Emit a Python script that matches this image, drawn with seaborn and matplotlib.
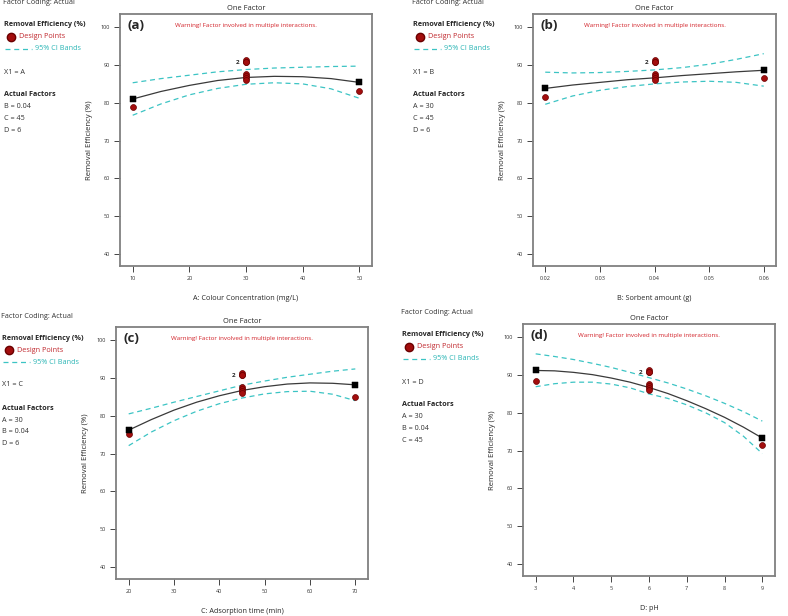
import numpy as np
import pandas as pd
import matplotlib
matplotlib.use("Agg")
import matplotlib.pyplot as plt
from matplotlib.lines import Line2D
import seaborn as sns

# ---- data ----
# (a) A: Colour Concentration
A_x = [10, 15, 20, 25, 30, 35, 40, 45, 50]
A_fit = [81.0, 83.0, 84.6, 85.9, 86.7, 87.0, 86.9, 86.4, 85.4]
A_hi = [85.3, 86.4, 87.3, 88.2, 88.8, 89.2, 89.4, 89.6, 89.7]
A_lo = [76.7, 79.7, 82.1, 83.8, 84.9, 85.3, 85.0, 83.7, 81.2]
A_ends = [10, 50]
A_pred = [81.0, 85.4]
A_obs = [78.9, 83.2]
A_ticks = [10, 20, 30, 40, 50]

# (b) B: Sorbent amount
B_x = [0.02, 0.025, 0.03, 0.035, 0.04, 0.045, 0.05, 0.055, 0.06]
B_fit = [83.8, 84.7, 85.4, 86.1, 86.6, 87.2, 87.7, 88.2, 88.6]
B_hi = [88.1, 87.9, 88.0, 88.3, 88.7, 89.3, 90.2, 91.5, 93.0]
B_lo = [79.6, 81.8, 83.3, 84.3, 85.0, 85.5, 85.7, 85.4, 84.4]
B_ends = [0.02, 0.06]
B_pred = [83.8, 88.6]
B_obs = [81.6, 86.5]
B_ticks = [0.02, 0.03, 0.04, 0.05, 0.06]

# (c) C: Adsorption time
C_x = [20, 25, 30, 35, 40, 45, 50, 55, 60, 65, 70]
C_fit = [76.2, 79.0, 81.5, 83.6, 85.3, 86.7, 87.7, 88.4, 88.7, 88.6, 88.2]
C_hi = [80.5, 82.0, 83.6, 85.1, 86.6, 88.1, 89.2, 90.2, 91.0, 91.8, 92.4]
C_lo = [72.1, 75.7, 78.7, 81.2, 83.2, 84.7, 85.8, 86.4, 86.5, 85.7, 84.0]
C_ends = [20, 70]
C_pred = [76.2, 88.2]
C_obs = [75.3, 85.0]
C_ticks = [20, 30, 40, 50, 60, 70]

# (d) D: pH
D_x = [3, 3.5, 4, 4.5, 5, 5.5, 6, 6.5, 7, 7.5, 8, 8.5, 9]
D_fit = [91.2, 91.1, 90.7, 90.1, 89.2, 88.1, 86.7, 85.1, 83.2, 81.1, 78.8, 76.2, 73.3]
D_hi = [95.6, 94.9, 94.1, 93.1, 92.0, 90.7, 89.3, 87.9, 86.3, 84.5, 82.5, 80.3, 77.8]
D_lo = [86.9, 87.7, 88.1, 88.1, 87.6, 86.6, 85.0, 83.8, 82.1, 80.0, 77.4, 73.8, 69.2]
D_ends = [3, 9]
D_pred = [91.2, 73.3]
D_obs = [88.5, 71.5]
D_ticks = [3, 4, 5, 6, 7, 8, 9]

# centre point replicates (same in every panel)
center_obs = [91.4, 90.7, 90.7, 87.7, 87.1, 86.5, 86.0]
y_ticks = [40, 50, 60, 70, 80, 90, 100]

panels = [
    dict(tag="(a)", x=A_x, fit=A_fit, hi=A_hi, lo=A_lo, ends=A_ends, pred=A_pred,
         obs=A_obs, ticks=A_ticks, center=30, xlabel="A: Colour Concentration (mg/L)",
         x1="X1 = A", fixed=["B = 0.04", "C = 45", "D = 6"],
         box=(120, 14, 372, 266), txt=(3, 1)),
    dict(tag="(b)", x=B_x, fit=B_fit, hi=B_hi, lo=B_lo, ends=B_ends, pred=B_pred,
         obs=B_obs, ticks=B_ticks, center=0.04, xlabel="B: Sorbent amount (g)",
         x1="X1 = B", fixed=["A = 30", "C = 45", "D = 6"],
         box=(533, 14, 776, 266), txt=(412, 1)),
    dict(tag="(c)", x=C_x, fit=C_fit, hi=C_hi, lo=C_lo, ends=C_ends, pred=C_pred,
         obs=C_obs, ticks=C_ticks, center=45, xlabel="C: Adsorption time (min)",
         x1="X1 = C", fixed=["A = 30", "B = 0.04", "D = 6"],
         box=(116, 327, 368, 579), txt=(1, 314)),
    dict(tag="(d)", x=D_x, fit=D_fit, hi=D_hi, lo=D_lo, ends=D_ends, pred=D_pred,
         obs=D_obs, ticks=D_ticks, center=6, xlabel="D: pH",
         x1="X1 = D", fixed=["A = 30", "B = 0.04", "C = 45"],
         box=(523, 324, 775, 576), txt=(401, 311)),
]

sns.set_style("white")
plt.rcParams['font.family'] = ['Open Sans', 'DejaVu Sans']

W, H = 788, 616
fig = plt.figure(figsize=(W / 100, H / 100), dpi=100)

RED = "#a30d0d"
CYAN = "#3cc4c4"
WARN = "#d2232a"
FS = 5.2


def ftxt(x, y, s, **kw):
    kw.setdefault("va", "center")
    fig.text(x / W, 1 - y / H, s, **kw)


for p in panels:
    l, t, r, b = p["box"]
    ax = fig.add_axes([l / W, 1 - b / H, (r - l) / W, (b - t) / H])

    curve = pd.DataFrame({"x": p["x"], "fit": p["fit"], "hi": p["hi"], "lo": p["lo"]})
    sns.lineplot(data=curve, x="x", y="hi", ax=ax, color=CYAN, lw=0.9,
                 linestyle=(0, (4, 3)))
    sns.lineplot(data=curve, x="x", y="lo", ax=ax, color=CYAN, lw=0.9,
                 linestyle=(0, (4, 3)))
    sns.lineplot(data=curve, x="x", y="fit", ax=ax, color="#3a3a3a", lw=0.9)

    pts = pd.DataFrame({"x": p["ends"] + [p["center"]] * len(center_obs),
                        "y": p["obs"] + center_obs})
    sns.scatterplot(data=pts, x="x", y="y", ax=ax, color=RED, s=18,
                    edgecolor="#6a0000", linewidth=0.5, zorder=4)
    sq = pd.DataFrame({"x": p["ends"], "y": p["pred"]})
    sns.scatterplot(data=sq, x="x", y="y", ax=ax, color="black", marker="s",
                    s=20, edgecolor="black", zorder=5)

    # replicate count next to the duplicated point
    ax.annotate("2", (p["center"], center_obs[1]), xytext=(-6, 0),
                textcoords="offset points", ha="center", va="center",
                fontsize=4.5, fontweight="bold")

    span = p["ticks"][-1] - p["ticks"][0]
    ax.set_xlim(p["ticks"][0] - 0.056 * span, p["ticks"][-1] + 0.056 * span)
    ax.set_ylim(36.8, 103.5)
    ax.set_xticks(p["ticks"])
    ax.set_xticklabels([f"{v:g}" if v >= 1 else f"{v:.2f}" for v in p["ticks"]])
    ax.set_yticks(y_ticks)
    ax.tick_params(bottom=True, left=True, direction="out", length=4, width=0.7,
                   color="#444444", labelsize=4, labelcolor="#333333", pad=3)
    for s in ax.spines.values():
        s.set_color("#808080")
        s.set_linewidth(1.3)
    ax.set_xlabel(p["xlabel"], fontsize=5.2, labelpad=10)
    ax.set_ylabel("Removal Efficiency (%)", fontsize=5.6, labelpad=6)
    ax.set_title("One Factor", fontsize=5.4, pad=3)
    ax.text(0.03, 0.953, p["tag"], transform=ax.transAxes, fontsize=9.5,
            fontweight="bold", va="center", ha="left")
    ax.text(0.5, 0.955, "Warning! Factor involved in multiple interactions.",
            transform=ax.transAxes, fontsize=4.5, color=WARN, va="center", ha="center")

    # side legend / factor block
    x0, y0 = p["txt"]
    ftxt(x0, y0 + 2, "Factor Coding: Actual", fontsize=FS, color="#333333")
    ftxt(x0 + 1, y0 + 24, "Removal Efficiency (%)", fontsize=FS, fontweight="bold")
    fig.add_artist(Line2D([(x0 + 8) / W], [1 - (y0 + 36) / H], marker="o",
                          markersize=6, color=RED, markeredgecolor="#6a0000",
                          transform=fig.transFigure))
    ftxt(x0 + 16, y0 + 36, "Design Points", fontsize=FS, color="#c0272d")
    fig.add_artist(Line2D([(x0 + 2) / W, (x0 + 29) / W], [1 - (y0 + 48) / H] * 2,
                          color=CYAN, lw=0.9, linestyle=(0, (4, 3)),
                          transform=fig.transFigure))
    ftxt(x0 + 32, y0 + 48, "95% CI Bands", fontsize=FS, color="#2ab5b5")
    ftxt(x0 + 1, y0 + 71, p["x1"], fontsize=FS, color="#333333")
    ftxt(x0 + 1, y0 + 94, "Actual Factors", fontsize=FS, fontweight="bold")
    for i, f in enumerate(p["fixed"]):
        ftxt(x0 + 1, y0 + 106 + 11.7 * i, f, fontsize=FS, color="#333333")

plt.savefig("out.png", dpi=100)
plt.close()
